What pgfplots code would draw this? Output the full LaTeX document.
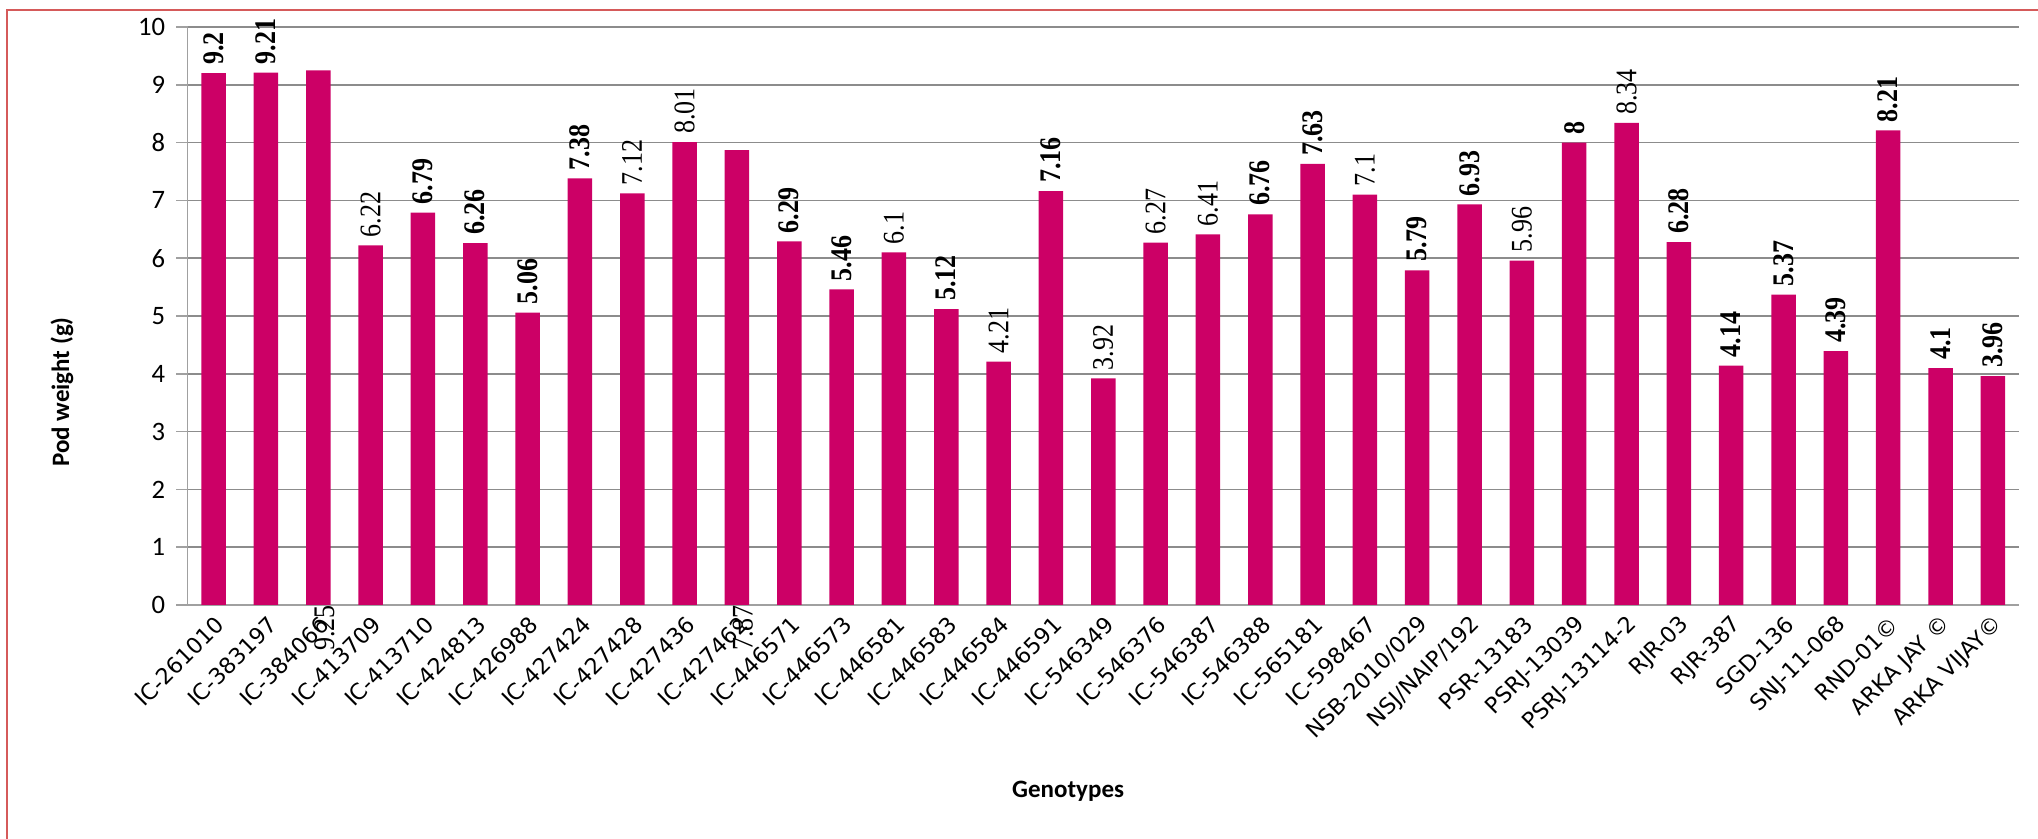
\documentclass[border=0pt]{standalone}
\usepackage{fontspec}
\setmainfont{Carlito}
\newfontfamily\serifnum{Liberation Serif}
\newfontfamily\catfont{DejaVu Sans}
\usepackage{pgfplots}
\usepackage{pgfplotstable}
\pgfplotsset{compat=1.18}
\definecolor{barcol}{HTML}{CC0066}
\definecolor{gridgray}{HTML}{8C8C8C}
\definecolor{axisgray}{HTML}{A0A0A0}
\definecolor{framered}{HTML}{D55A5A}

% pod weight per genotype; b: 0 = plain label, 1 = bold label, 2 = label set below the axis
\pgfplotstableread{
x y lab b
0 9.2 9.2 1
1 9.21 9.21 1
2 9.25 9.25 2
3 6.22 6.22 0
4 6.79 6.79 1
5 6.26 6.26 1
6 5.06 5.06 1
7 7.38 7.38 1
8 7.12 7.12 0
9 8.01 8.01 0
10 7.87 7.87 2
11 6.29 6.29 1
12 5.46 5.46 1
13 6.1 6.1 0
14 5.12 5.12 1
15 4.21 4.21 0
16 7.16 7.16 1
17 3.92 3.92 0
18 6.27 6.27 0
19 6.41 6.41 0
20 6.76 6.76 1
21 7.63 7.63 1
22 7.1 7.1 0
23 5.79 5.79 1
24 6.93 6.93 1
25 5.96 5.96 0
26 8 8 1
27 8.34 8.34 0
28 6.28 6.28 1
29 4.14 4.14 1
30 5.37 5.37 1
31 4.39 4.39 1
32 8.21 8.21 1
33 4.1 4.1 1
34 3.96 3.96 1
}\podtable

\newcommand{\numfont}{\serifnum\fontsize{13}{13}\selectfont}

\pgfplotsset{
  valuelabels/.style={draw=none, mark=none, forget plot,
    point meta=explicit symbolic,
    nodes near coords={\scalebox{1}[1.15]{\pgfplotspointmeta}},
    every node near coord/.style={rotate=90, anchor=west, inner xsep=4pt, inner ysep=0pt, text=black, font=#1},
  },
}

\begin{document}
\begin{tikzpicture}[x=1pt,y=1pt]
\useasboundingbox (0,0) rectangle (1019,419.5);
\draw[framered, line width=1pt] (3.5,-5) -- (3.5,414.5) -- (1030,414.5);
\begin{axis}[
  at={(93.75pt,117pt)}, anchor=south west,
  scale only axis, width=915.75pt, height=289pt,
  xmin=-0.5, xmax=34.5, ymin=0, ymax=10,
  clip=false,
  axis lines*=left,
  axis line style={axisgray, line width=0.9pt},
  ymajorgrids,
  major grid style={gridgray, line width=0.75pt},
  ytick={0,1,...,10},
  xtick={0,1,...,34},
  xticklabels={IC-261010,IC-383197,IC-384066,IC-413709,IC-413710,IC-424813,IC-426988,IC-427424,IC-427428,IC-427436,IC-427462,IC-446571,IC-446573,IC-446581,IC-446583,IC-446584,IC-446591,IC-546349,IC-546376,IC-546387,IC-546388,IC-565181,IC-598467,NSB-2010/029,NSJ/NAIP/192,PSR-13183,PSRJ-13039,PSRJ-13114-2,RJR-03,RJR-387,SGD-136,SNJ-11-068,RND-01©,ARKA JAY ©,ARKA VIJAY©},
  xtick style={draw=none},
  ytick style={axisgray, line width=0.75pt},
  tick align=outside,
  major tick length=5.5pt,
  /pgf/number format/assume math mode=true,
  yticklabel style={font=\fontsize{13.3}{14}\selectfont, anchor=east, inner sep=0pt, xshift=-5.5pt},
  xticklabel style={font=\catfont\fontsize{11.1}{12}\selectfont, rotate=45, anchor=east, inner sep=0pt, xshift=0.8pt, yshift=-4pt},
  xlabel={Genotypes},
  xlabel style={at={(axis description cs:0.4808,-0.323)}, anchor=center, font=\bfseries\fontsize{12.5}{14}\selectfont},
  ylabel={Pod weight (g)},
  ylabel style={at={(axis description cs:-0.0685,0.3685)}, anchor=center, font=\bfseries\fontsize{12.5}{14}\selectfont},
]
\addplot[ybar, bar width=12.25pt, fill=barcol, draw=none] table[x=x, y=y] {\podtable};
% value labels above the bars, bold and plain sets
\addplot[valuelabels={\numfont\bfseries}, x filter/.expression={\thisrow{b}==1 ? x : nan}]
  table[x=x, y=y, meta=lab] {\podtable};
\addplot[valuelabels={\numfont}, x filter/.expression={\thisrow{b}==0 ? x : nan}]
  table[x=x, y=y, meta=lab] {\podtable};
% two labels that sit below the axis, under their bars
\node[rotate=90, anchor=east, inner sep=0pt, yshift=-3pt, font=\numfont] at (axis cs:2,0) {\scalebox{1}[1.15]{9.25}};
\node[rotate=90, anchor=east, inner sep=0pt, yshift=-3pt, font=\numfont] at (axis cs:10,0) {\scalebox{1}[1.15]{7.87}};
\end{axis}
\end{tikzpicture}
\end{document}
